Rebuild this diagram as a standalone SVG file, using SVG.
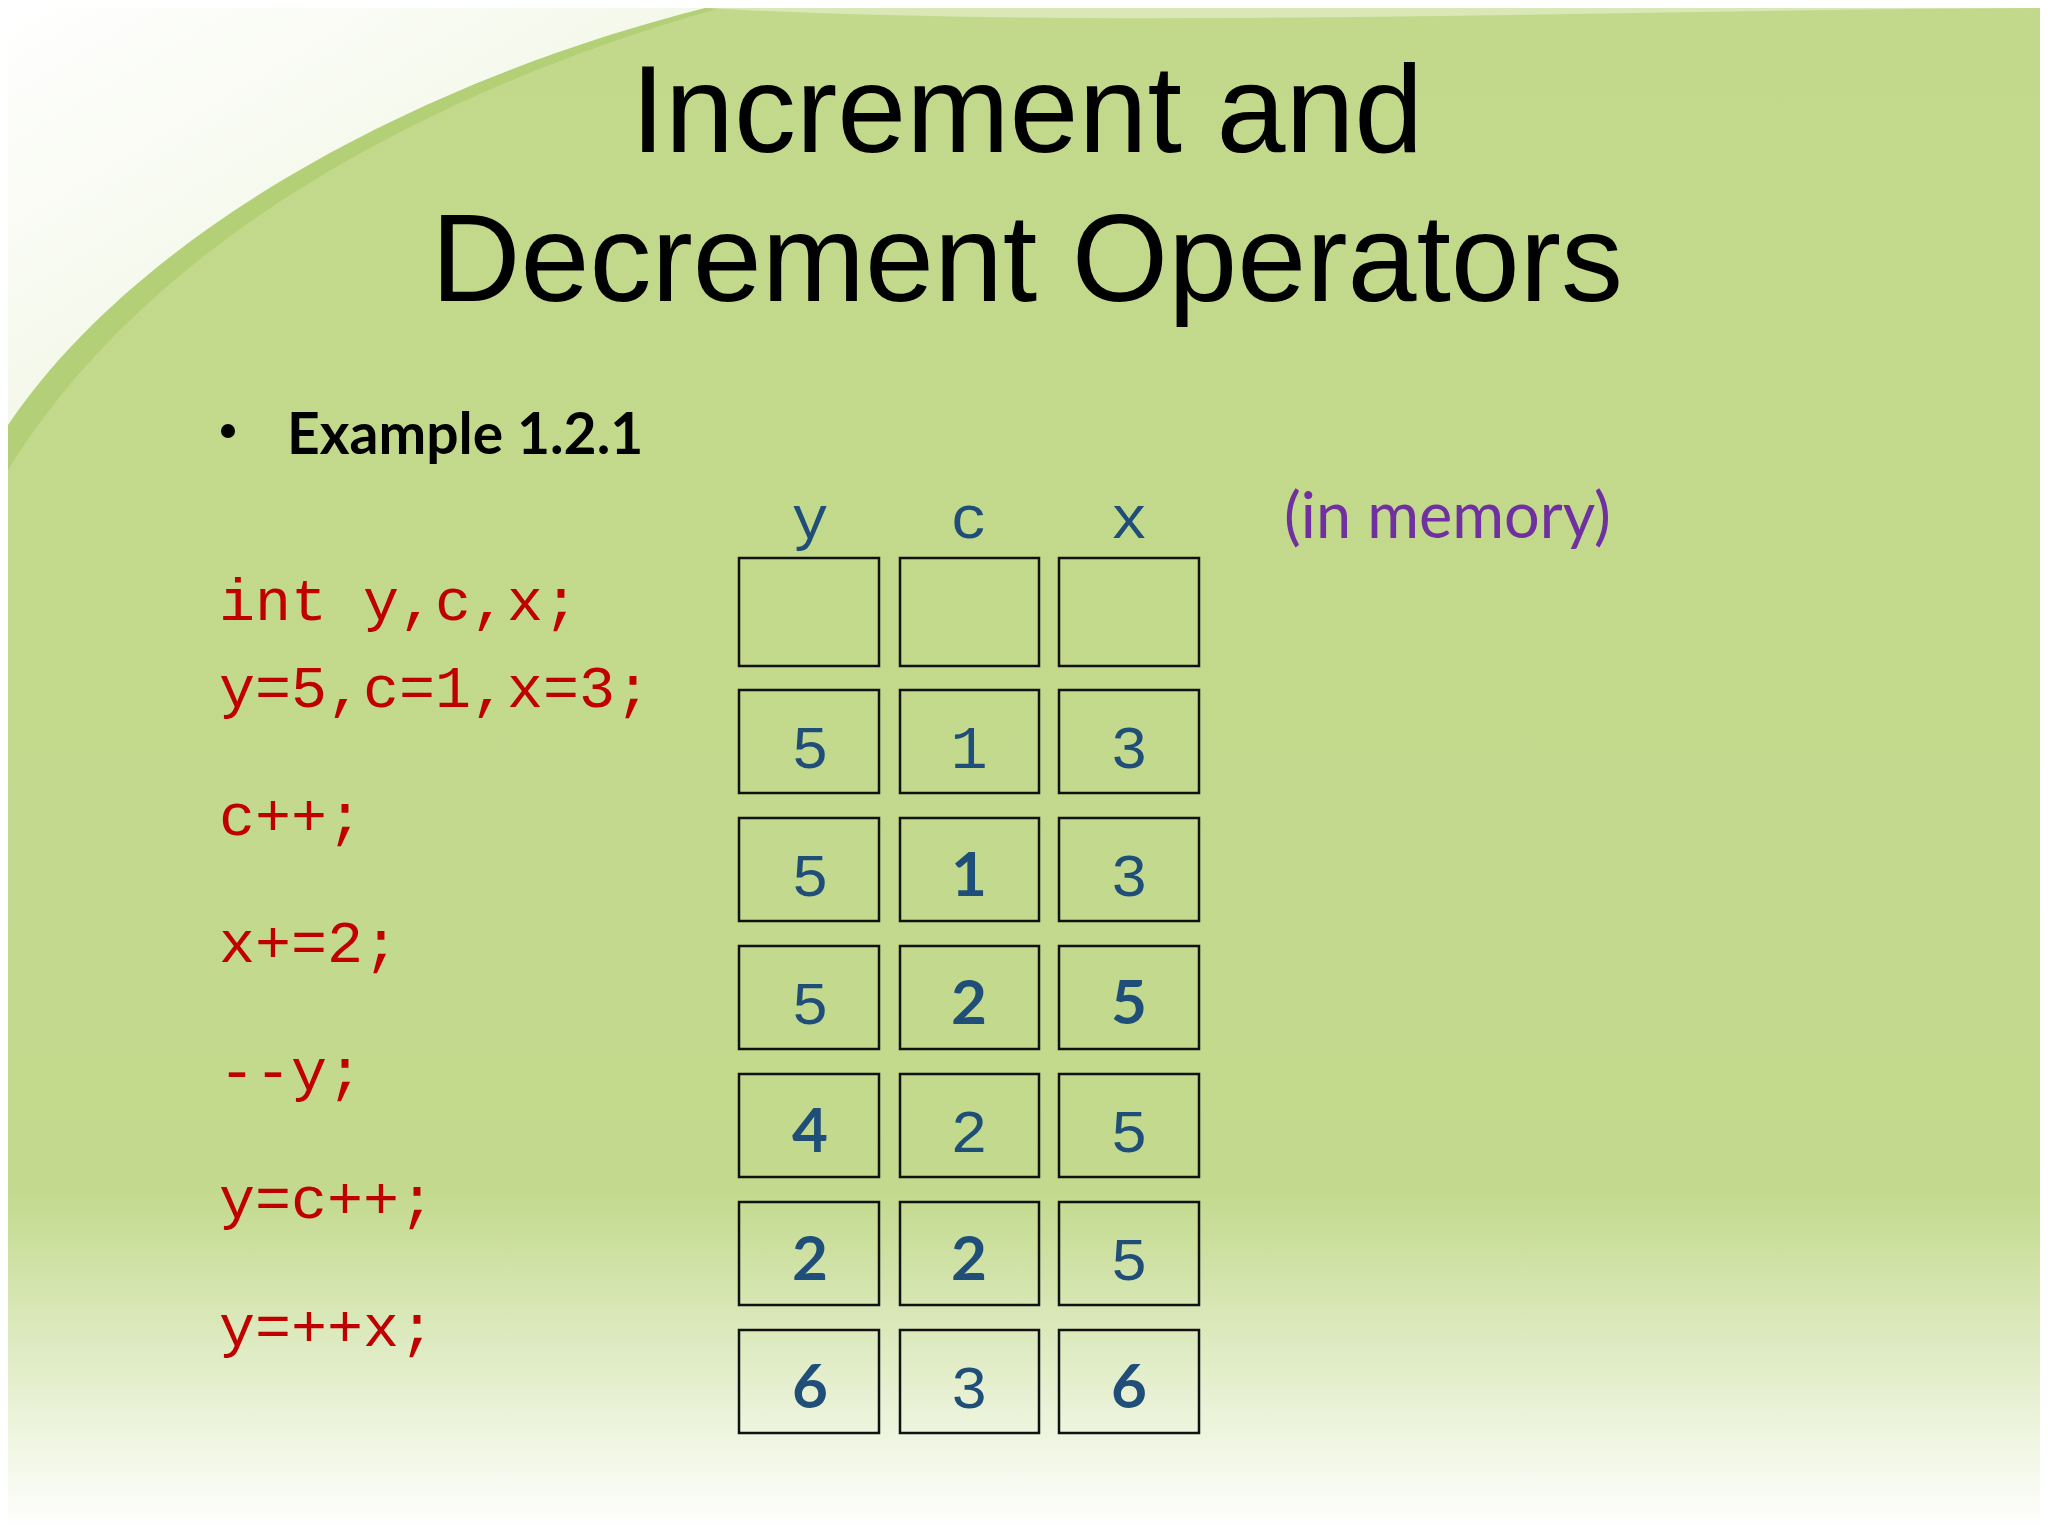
<svg xmlns="http://www.w3.org/2000/svg" width="2048" height="1536" viewBox="0 0 2048 1536">
<defs>
<linearGradient id="bg" x1="0" y1="0" x2="0" y2="1">
<stop offset="0" stop-color="#c2d98b"/>
<stop offset="0.78" stop-color="#c3da8e"/>
<stop offset="1" stop-color="#ffffff"/>
</linearGradient>
<linearGradient id="sw" x1="0" y1="0" x2="1" y2="1">
<stop offset="0" stop-color="#ffffff"/>
<stop offset="0.6" stop-color="#f2f7e6"/>
<stop offset="1" stop-color="#dbe9b8"/>
</linearGradient>
<style>
.t{font-family:"Liberation Sans",Arial,sans-serif;font-size:124px;fill:#000;text-anchor:middle}
.code{font-family:"Liberation Mono","Courier New",monospace;font-size:60px;fill:#c00000}
.hd{font-family:"Liberation Mono","Courier New",monospace;font-size:62px;fill:#1f4e79;text-anchor:middle}
.n{font-family:"Liberation Mono","Courier New",monospace;font-size:62px;fill:#1f4e79;text-anchor:middle}
.b{font-family:Lato,"Liberation Sans",sans-serif;font-weight:bold;font-size:62px;fill:#1f4e79;text-anchor:middle}
.box{fill:none;stroke:#111;stroke-width:2.5}
</style>
</defs>
<rect width="2048" height="1536" fill="#fff"/>
<rect x="8" y="8" width="2032" height="1520" fill="url(#bg)"/>
<path d="M8 8 L720 8 C430 90 150 240 8 470 Z" fill="#a8c96a" opacity="0.6"/>
<path d="M8 8 L705 8 C420 80 140 230 8 425 Z" fill="url(#sw)"/>
<path d="M705 8 C1100 30 1600 10 2040 8 L705 8Z" fill="#d9e8b6"/>
<g id="title">
<text class="t" x="1027" y="152">Increment and</text>
<text class="t" x="1027" y="301">Decrement Operators</text>
</g>
<g id="bullet">
<circle cx="228" cy="431" r="7" fill="#000"/>
<text x="287" y="454" font-family="Lato,'Liberation Sans',sans-serif" font-weight="bold" font-size="57" fill="#000">Example 1.2.1</text>
</g>
<text x="1284" y="538" font-family="Lato,'Liberation Sans',sans-serif" font-size="63" fill="#7030a0">(in memory)</text>
<g id="code">
<text class="code" x="219" y="620">int y,c,x;</text>
<text class="code" x="219" y="707">y=5,c=1,x=3;</text>
<text class="code" x="219" y="835">c++;</text>
<text class="code" x="219" y="962">x+=2;</text>
<text class="code" x="219" y="1090">--y;</text>
<text class="code" x="219" y="1218">y=c++;</text>
<text class="code" x="219" y="1346">y=++x;</text>
</g>
<g id="headers">
<text class="hd" x="810" y="538">y</text>
<text class="hd" x="969" y="538">c</text>
<text class="hd" x="1129" y="538">x</text>
</g>
<g id="boxes">
<rect class="box" x="739" y="558" width="140" height="108"/>
<rect class="box" x="900" y="558" width="139" height="108"/>
<rect class="box" x="1059" y="558" width="140" height="108"/>
<rect class="box" x="739" y="690" width="140" height="103"/><rect class="box" x="900" y="690" width="139" height="103"/><rect class="box" x="1059" y="690" width="140" height="103"/>
<rect class="box" x="739" y="818" width="140" height="103"/><rect class="box" x="900" y="818" width="139" height="103"/><rect class="box" x="1059" y="818" width="140" height="103"/>
<rect class="box" x="739" y="946" width="140" height="103"/><rect class="box" x="900" y="946" width="139" height="103"/><rect class="box" x="1059" y="946" width="140" height="103"/>
<rect class="box" x="739" y="1074" width="140" height="103"/><rect class="box" x="900" y="1074" width="139" height="103"/><rect class="box" x="1059" y="1074" width="140" height="103"/>
<rect class="box" x="739" y="1202" width="140" height="103"/><rect class="box" x="900" y="1202" width="139" height="103"/><rect class="box" x="1059" y="1202" width="140" height="103"/>
<rect class="box" x="739" y="1330" width="140" height="103"/><rect class="box" x="900" y="1330" width="139" height="103"/><rect class="box" x="1059" y="1330" width="140" height="103"/>
</g>
<g id="values">
<text class="n" x="810" y="768">5</text><text class="n" x="969" y="768">1</text><text class="n" x="1129" y="768">3</text>
<text class="n" x="810" y="896">5</text><text class="b" x="969" y="896">1</text><text class="n" x="1129" y="896">3</text>
<text class="n" x="810" y="1024">5</text><text class="b" x="969" y="1024">2</text><text class="b" x="1129" y="1024">5</text>
<text class="b" x="810" y="1152">4</text><text class="n" x="969" y="1152">2</text><text class="n" x="1129" y="1152">5</text>
<text class="b" x="810" y="1280">2</text><text class="b" x="969" y="1280">2</text><text class="n" x="1129" y="1280">5</text>
<text class="b" x="810" y="1408">6</text><text class="n" x="969" y="1408">3</text><text class="b" x="1129" y="1408">6</text>
</g>
</svg>
